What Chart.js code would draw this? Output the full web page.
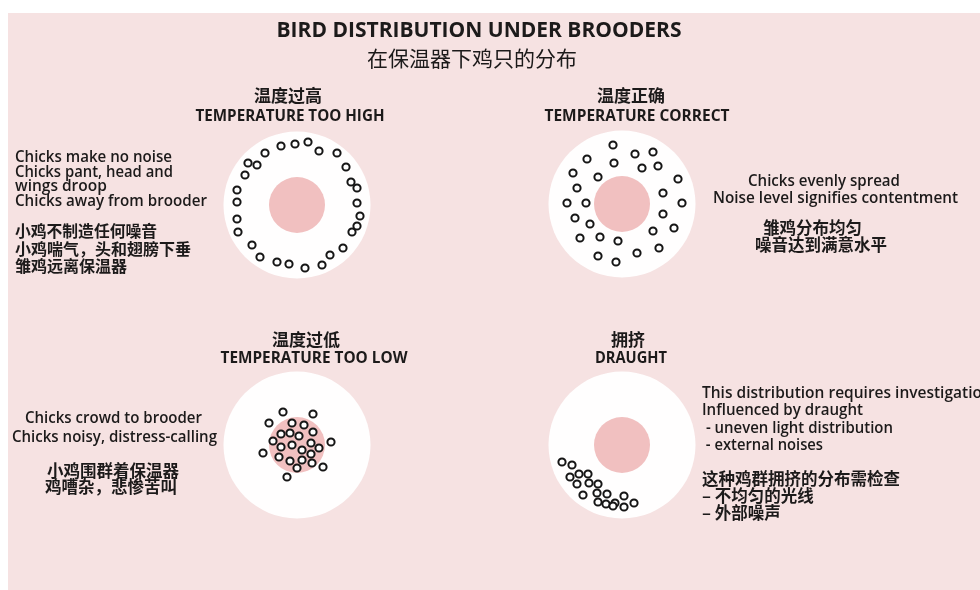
<!DOCTYPE html>
<html><head><meta charset="utf-8">
<script src="https://cdn.jsdelivr.net/npm/chart.js@4/dist/chart.umd.min.js"></script>
<style>html,body{margin:0;padding:0;background:#fff;overflow:hidden}#wrap{width:980px;height:590px}</style>
</head><body><div id="wrap"><canvas id="c" width="980" height="590"></canvas></div>
<script>
// ---------- DATA ----------
const panels = ['high', 'correct', 'low', 'draught'];
const brooderX = [297, 622, 297, 622];
const brooderY = [205, 204, 445, 445];

const chicksHigh = [[265,153],[281,146],[295,144],[308,142],[319,151],[337,153],[346,167],[351,182],[357,188],[357,203],[360,216],[357,226],[352,232],[343,248],[330,255],[322,265],[305,268],[289,264],[277,262],[260,257],[252,245],[238,232],[237,219],[237,202],[237,190],[245,175],[248,163],[257,165]];
const chicksCorrect = [[613,145],[635,154],[653,152],[587,159],[614,163],[642,168],[658,166],[573,173],[598,177],[678,179],[577,188],[663,193],[567,203],[586,203],[682,203],[575,218],[590,224],[663,214],[674,228],[653,231],[580,238],[600,237],[618,241],[659,248],[637,253],[598,256],[616,262]];
const chicksLow = [[283,412],[313,414],[269,423],[292,423],[304,425],[313,432],[281,434],[290,433],[299,436],[273,441],[281,447],[292,445],[302,450],[311,443],[319,448],[331,442],[263,453],[279,457],[290,461],[302,460],[311,454],[312,463],[297,468],[323,467],[287,477]];
const chicksDraught = [[562,462],[572,465],[570,477],[579,474],[588,474],[577,484],[589,483],[598,484],[583,495],[597,493],[607,494],[598,502],[606,504],[615,503],[624,496],[613,506],[624,507],[634,503]];

const titleEn = 'BIRD DISTRIBUTION UNDER BROODERS';
const titleZh = '在保温器下鸡只的分布';
const headingsZh = ['温度过高', '温度正确', '温度过低', '拥挤'];
const headingsEn = ['TEMPERATURE TOO HIGH', 'TEMPERATURE CORRECT', 'TEMPERATURE TOO LOW', 'DRAUGHT'];
const notesEnHigh = ['Chicks make no noise', 'Chicks pant, head and', 'wings droop', 'Chicks away from brooder'];
const notesZhHigh = ['小鸡不制造任何噪音', '小鸡喘气，头和翅膀下垂', '雏鸡远离保温器'];
const notesEnCorrect = ['Chicks evenly spread', 'Noise level signifies contentment'];
const notesZhCorrect = ['雏鸡分布均匀', '噪音达到满意水平'];
const notesEnLow = ['Chicks crowd to brooder', 'Chicks noisy, distress-calling'];
const notesZhLow = ['小鸡围群着保温器', '鸡嘈杂，悲惨苦叫'];
const notesEnDraught = ['This distribution requires investigation', 'Influenced by draught', ' - uneven light distribution', ' - external noises'];
const notesZhDraught = ['这种鸡群拥挤的分布需检查', '– 不均匀的光线', '– 外部噪声'];

// ---------- LAYOUT / STYLE ----------
const EN = '"Open Sans", "Noto Sans", sans-serif';
const ZH = '"Noto Sans CJK SC", sans-serif';
const INK = '#1c1a1a';
const headingZhPos = [[288, 96], [631, 96], [306, 340], [628, 340]];
const headingEnPos = [[290, 117, 189], [637, 117, 185], [314, 359, 187], [631, 359, 72]];
const noteBlocks = [
  {lines: notesEnHigh, font: '600 15.5px ' + EN, pos: [[15,158,157],[15,173,158],[15,187,92],[15,202,192]]},
  {lines: notesZhHigh, font: '700 16px ' + ZH, pos: [[15,231,142],[15,249,192],[15,266,120]]},
  {lines: notesEnCorrect, font: '600 15.5px ' + EN, pos: [[748,182,152],[713,199,245]]},
  {lines: notesZhCorrect, font: '700 16.5px ' + ZH, pos: [[763,228,104],[755,245,138]]},
  {lines: notesEnLow, font: '600 16px ' + EN, pos: [[25,418,177],[12,437,205]]},
  {lines: notesZhLow, font: '700 16.5px ' + ZH, pos: [[47,471,135],[45,487,137]]},
  {lines: notesEnDraught, font: '600 15.5px ' + EN, pos: [[702,394,290],[702,411,161],[702,429,191],[702,446,121]]},
  {lines: notesZhDraught, font: '700 16.5px ' + ZH, pos: [[702,479,203],[702,496,118],[702,513,85]]}
];

const toPts = arr => arr.map(p => ({x: p[0], y: p[1]}));
const brooderPts = brooderX.map((x, i) => ({x, y: brooderY[i]}));

function fitText(ctx, text, x, y, maxW) {
  const w = ctx.measureText(text).width;
  if (maxW && w > maxW) ctx.fillText(text, x, y, maxW);
  else ctx.fillText(text, x, y);
}

const backdrop = {
  id: 'backdrop',
  beforeDraw(chart) {
    const ctx = chart.ctx;
    ctx.save();
    ctx.fillStyle = '#ffffff';
    ctx.fillRect(0, 0, chart.width, chart.height);
    ctx.fillStyle = '#f6e2e2';
    ctx.fillRect(8, 13, chart.width - 8, chart.height - 13);
    ctx.restore();
  }
};

const texts = {
  id: 'texts',
  afterDraw(chart) {
    const ctx = chart.ctx;
    ctx.save();
    ctx.fillStyle = INK;
    ctx.textBaseline = 'middle';
    ctx.textAlign = 'center';
    ctx.font = '700 21px ' + EN;
    fitText(ctx, titleEn, 479, 31, 438);
    ctx.font = '400 21px ' + ZH;
    fitText(ctx, titleZh, 472, 58, 217);
    headingsZh.forEach((t, i) => {
      ctx.font = '700 17px ' + ZH;
      fitText(ctx, t, headingZhPos[i][0], headingZhPos[i][1], null);
    });
    headingsEn.forEach((t, i) => {
      ctx.font = '700 15.5px ' + EN;
      fitText(ctx, t, headingEnPos[i][0], headingEnPos[i][1], headingEnPos[i][2]);
    });
    ctx.textAlign = 'left';
    noteBlocks.forEach(b => {
      ctx.font = b.font;
      b.lines.forEach((t, i) => {
        const p = b.pos[i];
        fitText(ctx, t, p[0], p[1], p[2]);
      });
    });
    ctx.restore();
  }
};

const chickStyle = {
  pointRadius: 3.6,
  pointBorderWidth: 2,
  pointBorderColor: '#151515',
  pointBackgroundColor: '#ffffff',
  order: 1
};

new Chart(document.getElementById('c'), {
  type: 'scatter',
  data: {
    datasets: [
      Object.assign({label: 'Temperature too high', data: toPts(chicksHigh)}, chickStyle),
      Object.assign({label: 'Temperature correct', data: toPts(chicksCorrect)}, chickStyle),
      Object.assign({label: 'Temperature too low', data: toPts(chicksLow)}, chickStyle),
      Object.assign({label: 'Draught', data: toPts(chicksDraught)}, chickStyle),
      {label: 'Brooder', data: brooderPts, pointRadius: 28, pointBorderWidth: 0, pointBackgroundColor: '#f1c0c0', order: 2},
      {label: 'Pen area', data: brooderPts, pointRadius: 73.5, pointBorderWidth: 0, pointBackgroundColor: '#fffefe', order: 3}
    ]
  },
  options: {
    responsive: false,
    devicePixelRatio: 1,
    animation: false,
    events: [],
    layout: {padding: 0, autoPadding: false},
    plugins: {legend: {display: false}, tooltip: {enabled: false}, title: {display: false}},
    scales: {
      x: {type: 'linear', min: 0, max: 980, display: false},
      y: {type: 'linear', min: 0, max: 590, reverse: true, display: false}
    }
  },
  plugins: [backdrop, texts]
});
</script>
</body></html>
